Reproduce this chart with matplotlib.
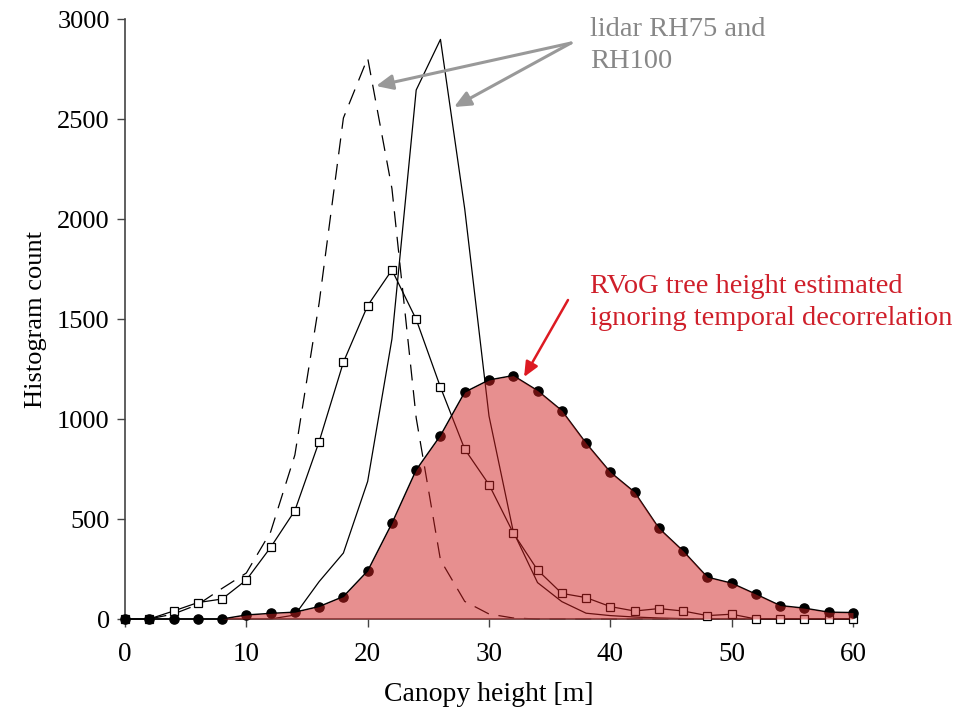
import matplotlib
matplotlib.use("Agg")
import matplotlib.pyplot as plt
import numpy as np

# Canopy height bins [m]
height = list(range(0, 62, 2))

# lidar RH75 histogram (dashed)
rh75 = [0, 0, 25, 72, 153, 230, 435, 820, 1580, 2505, 2805, 2152, 1005, 295, 88, 25,
        5, 0, 0, 0, 0, 0, 0, 0, 0, 0, 0, 0, 0, 0, 0]

# lidar RH100 histogram (solid)
rh100 = [0, 0, 0, 0, 0, 0, 0, 20, 187, 330, 688, 1400, 2645, 2898, 2050, 1015,
         437, 182, 87, 29, 17, 10, 5, 2, 0, 0, 0, 0, 0, 0, 0]

# second histogram with square markers
squares = [0, 0, 40, 82, 100, 195, 358, 542, 887, 1284, 1567, 1745, 1498, 1159, 849, 672,
           430, 245, 128, 107, 62, 40, 52, 40, 17, 24, 0, 0, 0, 0, 0]

# RVoG tree height histogram (filled)
rvog = [0, 0, 0, 0, 0, 20, 28, 34, 62, 112, 240, 478, 745, 917, 1134, 1195,
        1217, 1142, 1042, 879, 734, 634, 454, 340, 209, 179, 124, 67, 54, 34, 32]

xticks = [0, 10, 20, 30, 40, 50, 60]
yticks = [0, 500, 1000, 1500, 2000, 2500, 3000]

W, H = 969, 707
fig = plt.figure(figsize=(W / 100, H / 100), dpi=100)
ax = fig.add_axes([125 / W, (H - 619) / H, 728 / W, 600 / H])

serif = ["Liberation Serif", "DejaVu Serif"]
lw = 0.9
ax.plot(height, rh75, color="black", lw=lw, linestyle=(0, (11.5 / lw, 7.0 / lw)),
        zorder=2, clip_on=False)
ax.plot(height, rh100, color="black", lw=lw, zorder=2, clip_on=False)
ax.plot(height, squares, color="black", lw=lw, marker="s", markersize=5.6,
        markerfacecolor="white", markeredgecolor="black", markeredgewidth=0.9,
        zorder=3, clip_on=False)
ax.plot(height, rvog, color="black", lw=1.1, marker="o", markersize=6.6,
        markerfacecolor="black", markeredgecolor="black", zorder=4, clip_on=False)
ax.fill_between(height, rvog, 0, color=(0.82, 0.13, 0.13), alpha=0.5, lw=0,
                zorder=5)

ax.set_xlim(0, 60)
ax.set_ylim(0, 3000)
ax.set_xticks(xticks)
ax.set_yticks(yticks)
ax.set_xticklabels([str(t) for t in xticks], family=serif, fontsize=19.5)
ax.set_yticklabels([str(t) for t in yticks], family=serif, fontsize=19)
ax.tick_params(axis="x", direction="out", length=5.5, width=1.0, pad=11, color="#444444")
ax.tick_params(axis="y", direction="out", length=6, width=1.0, pad=5, color="#444444")

for side in ("top", "right"):
    ax.spines[side].set_visible(False)
for side in ("left", "bottom"):
    ax.spines[side].set_color("#444444")
    ax.spines[side].set_linewidth(1.2)

ax.set_xlabel("Canopy height [m]", family=serif, fontsize=20, labelpad=11)
ax.set_ylabel("Histogram count", family=serif, fontsize=19, labelpad=7)

# annotations
grey_txt = "#878787"
grey_arr = "#999999"
red_txt = "#cf1f2a"
red_arr = "#dd1a22"

for tip in [(20.69, 2665), (27.12, 2560)]:
    ax.annotate("", xy=tip, xytext=(36.76, 2880),
                arrowprops=dict(arrowstyle="-|>,head_length=1.0,head_width=0.45",
                                color=grey_arr, lw=2.2, shrinkA=0, shrinkB=0),
                zorder=6, annotation_clip=False)

ax.annotate("", xy=(32.89, 1210), xytext=(36.51, 1595),
            arrowprops=dict(arrowstyle="-|>,head_length=0.9,head_width=0.4",
                            color=red_arr, lw=1.8, shrinkA=0, shrinkB=0),
            zorder=6, annotation_clip=False)

note_font = ["Liberation Serif", "DejaVu Serif"]
for line, yb in zip(["lidar RH75 and", "RH100"], [2915, 2755]):
    ax.text(38.33, yb, line, family=note_font, fontsize=20.5, color=grey_txt,
            va="baseline", ha="left", zorder=7, clip_on=False)
for line, yb in zip(["RVoG tree height estimated", "ignoring temporal decorrelation"],
                    [1630, 1470]):
    ax.text(38.33, yb, line, family=note_font, fontsize=20.5, color=red_txt,
            va="baseline", ha="left", zorder=7, clip_on=False)

fig.savefig("out.png", dpi=100)
